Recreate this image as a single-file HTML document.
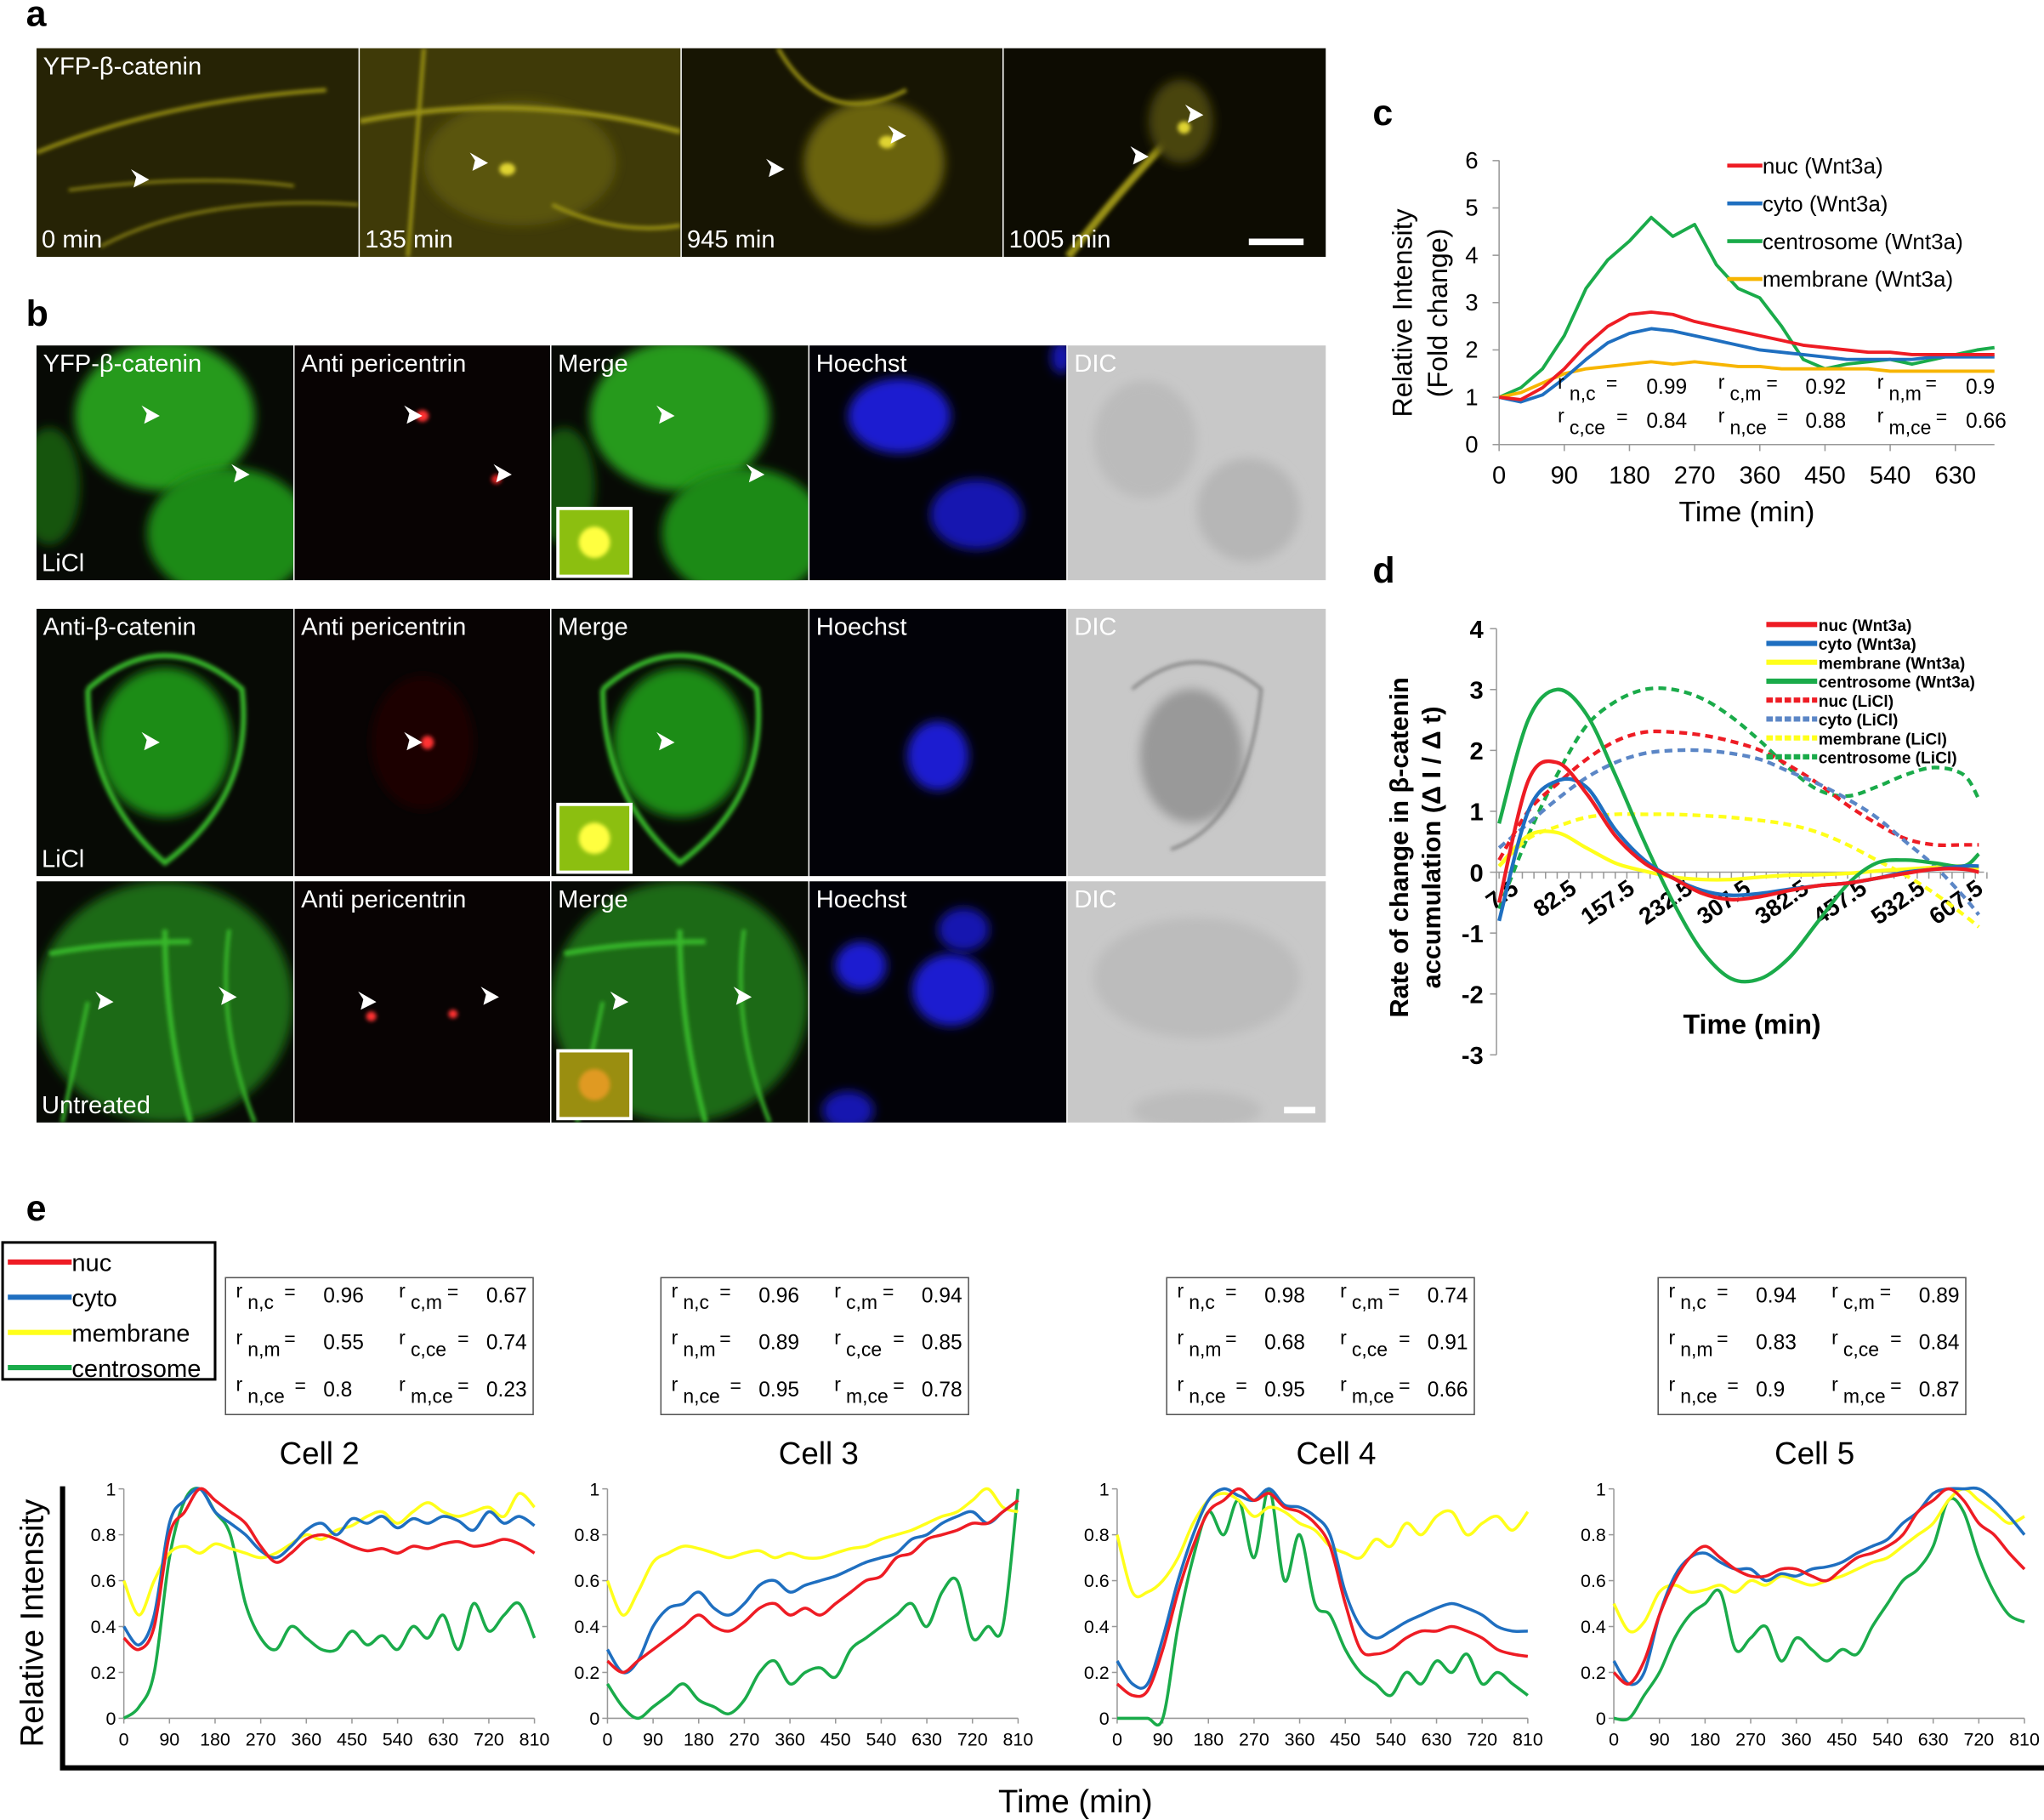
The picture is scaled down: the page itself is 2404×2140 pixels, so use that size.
<!DOCTYPE html>
<html><head><meta charset="utf-8"><style>
html,body{margin:0;padding:0;background:#fff}
svg{display:block;font-family:"Liberation Sans",Arial,sans-serif}
</style></head><body>
<svg id="fig" width="2404" height="2140" viewBox="0 0 1568 1396" preserveAspectRatio="none" xmlns="http://www.w3.org/2000/svg">
<defs id="defs">
<filter id="bl" x="-50%" y="-50%" width="200%" height="200%"><feGaussianBlur stdDeviation="4"/></filter>
<filter id="bs" x="-50%" y="-50%" width="200%" height="200%"><feGaussianBlur stdDeviation="1.5"/></filter>
</defs>
<g id="micro"></g>
<g id="pc"></g>
<g id="pd"></g>
<g id="pe"></g>
</svg>
<script>
// ---------- Panel c data ----------
const cTimes=[0,30,60,90,120,150,180,210,240,270,300,330,360,390,420,450,480,510,540,570,600,630,660,684];
const cNuc=[1,0.95,1.2,1.6,2.1,2.5,2.75,2.8,2.75,2.6,2.5,2.4,2.3,2.2,2.1,2.05,2,1.95,1.95,1.9,1.9,1.9,1.9,1.9];
const cCyto=[1,0.9,1.05,1.4,1.8,2.15,2.35,2.45,2.4,2.3,2.2,2.1,2,1.95,1.9,1.85,1.8,1.8,1.8,1.8,1.85,1.85,1.85,1.85];
const cCentro=[1,1.2,1.6,2.3,3.3,3.9,4.3,4.8,4.4,4.65,3.8,3.3,3.1,2.5,1.8,1.6,1.7,1.75,1.8,1.7,1.8,1.9,2,2.05];
const cMemb=[1,1.1,1.3,1.5,1.6,1.65,1.7,1.75,1.7,1.75,1.7,1.65,1.65,1.6,1.6,1.6,1.6,1.6,1.55,1.55,1.55,1.55,1.55,1.55];
const cXTicks=[0,90,180,270,360,450,540,630];
const cYTicks=[0,1,2,3,4,5,6];
// ---------- Panel d data ----------
const dTimes=[7.5,45,82.5,120,157.5,195,232.5,270,307.5,345,382.5,420,457.5,495,532.5,570,607.5,627];
const dNucW=[-0.5,1.5,1.8,1.3,0.6,0.15,-0.1,-0.35,-0.45,-0.4,-0.3,-0.22,-0.18,-0.1,-0.02,0.05,0.05,0];
const dCytoW=[-0.8,1.0,1.5,1.4,0.7,0.2,-0.1,-0.3,-0.38,-0.35,-0.28,-0.22,-0.18,-0.1,0,0.05,0.1,0.1];
const dMembW=[0.1,0.6,0.65,0.4,0.15,0.02,-0.08,-0.12,-0.12,-0.08,-0.05,-0.04,-0.02,0.02,0.05,0.08,0.1,0.05];
const dCentroW=[0.8,2.5,3.0,2.6,1.6,0.5,-0.5,-1.3,-1.75,-1.75,-1.4,-0.8,-0.2,0.15,0.2,0.15,0.1,0.3];
const dNucL=[0.2,1.0,1.45,1.85,2.15,2.3,2.3,2.25,2.15,2.0,1.75,1.45,1.1,0.8,0.55,0.45,0.45,0.45];
const dCytoL=[0.4,0.8,1.2,1.55,1.8,1.95,2.0,2.0,1.95,1.85,1.65,1.45,1.2,0.9,0.5,0.1,-0.4,-0.7];
const dMembL=[0.1,0.55,0.75,0.9,0.95,0.95,0.95,0.93,0.9,0.85,0.78,0.65,0.45,0.2,-0.05,-0.35,-0.7,-0.9];
const dCentroL=[-0.6,0.6,1.6,2.4,2.8,3.0,3.0,2.85,2.55,2.15,1.7,1.35,1.25,1.4,1.6,1.72,1.6,1.2];
const dXLabels=["7.5","82.5","157.5","232.5","307.5","382.5","457.5","532.5","607.5"];
const dYTicks=[-3,-2,-1,0,1,2,3,4];
// ---------- Panel e data ----------
const eTimes=[0,30,60,90,120,150,180,210,240,270,300,330,360,390,420,450,480,510,540,570,600,630,660,690,720,750,780,810];
const eXTicks=[0,90,180,270,360,450,540,630,720,810];
const eYTicks=[0,0.2,0.4,0.6,0.8,1];
const cell2Nuc=[0.35,0.3,0.4,0.8,0.9,1,0.95,0.9,0.85,0.75,0.68,0.72,0.78,0.8,0.78,0.75,0.73,0.74,0.72,0.75,0.74,0.76,0.77,0.75,0.76,0.78,0.76,0.72];
const cell2Cyto=[0.4,0.32,0.45,0.85,0.95,1,0.9,0.85,0.8,0.73,0.7,0.75,0.82,0.85,0.8,0.87,0.85,0.88,0.83,0.87,0.85,0.88,0.86,0.82,0.9,0.85,0.88,0.84];
const cell2Memb=[0.6,0.45,0.6,0.72,0.75,0.72,0.76,0.74,0.72,0.7,0.72,0.76,0.8,0.78,0.82,0.84,0.88,0.9,0.85,0.9,0.94,0.9,0.88,0.9,0.92,0.88,0.98,0.92];
const cell2Centro=[0,0.05,0.2,0.7,0.95,1,0.9,0.8,0.5,0.35,0.3,0.4,0.35,0.3,0.3,0.38,0.32,0.36,0.3,0.4,0.35,0.45,0.3,0.5,0.38,0.45,0.5,0.35];
const cell3Nuc=[0.25,0.2,0.25,0.3,0.35,0.4,0.45,0.4,0.38,0.42,0.48,0.5,0.45,0.48,0.45,0.5,0.55,0.6,0.62,0.7,0.72,0.78,0.8,0.82,0.85,0.85,0.9,0.95];
const cell3Cyto=[0.3,0.2,0.25,0.4,0.48,0.5,0.55,0.48,0.45,0.5,0.58,0.6,0.55,0.58,0.6,0.62,0.65,0.68,0.7,0.72,0.78,0.8,0.85,0.88,0.9,0.85,0.9,0.95];
const cell3Memb=[0.6,0.45,0.55,0.68,0.72,0.75,0.74,0.72,0.7,0.72,0.73,0.7,0.72,0.7,0.7,0.72,0.74,0.75,0.78,0.8,0.82,0.85,0.88,0.9,0.95,1,0.92,0.9];
const cell3Centro=[0.15,0.05,0,0.05,0.1,0.15,0.08,0.05,0.02,0.08,0.2,0.25,0.15,0.2,0.22,0.18,0.3,0.35,0.4,0.45,0.5,0.4,0.55,0.6,0.35,0.4,0.4,1];
const cell4Nuc=[0.15,0.1,0.12,0.3,0.55,0.75,0.9,0.95,1,0.95,0.98,0.92,0.9,0.85,0.75,0.5,0.3,0.28,0.3,0.35,0.38,0.38,0.4,0.38,0.35,0.3,0.28,0.27];
const cell4Cyto=[0.25,0.15,0.15,0.35,0.6,0.8,0.95,1,0.97,0.95,1,0.93,0.92,0.88,0.8,0.55,0.4,0.35,0.38,0.42,0.45,0.48,0.5,0.48,0.45,0.4,0.38,0.38];
const cell4Memb=[0.8,0.55,0.55,0.6,0.7,0.85,0.95,0.98,0.95,0.88,0.92,0.9,0.85,0.82,0.75,0.72,0.7,0.78,0.75,0.85,0.8,0.88,0.9,0.8,0.85,0.88,0.82,0.9];
const cell4Centro=[0,0,0,0,0.4,0.7,0.9,0.8,0.95,0.7,1,0.6,0.8,0.5,0.45,0.3,0.2,0.15,0.1,0.2,0.15,0.25,0.2,0.28,0.15,0.2,0.15,0.1];
const cell5Nuc=[0.2,0.15,0.25,0.45,0.6,0.7,0.75,0.7,0.65,0.62,0.62,0.65,0.65,0.62,0.6,0.65,0.7,0.72,0.75,0.8,0.9,0.95,1,0.95,0.85,0.8,0.72,0.65];
const cell5Cyto=[0.25,0.15,0.2,0.45,0.62,0.7,0.72,0.68,0.65,0.65,0.6,0.63,0.62,0.65,0.66,0.68,0.72,0.75,0.78,0.85,0.9,0.98,1,1,1,0.95,0.88,0.8];
const cell5Memb=[0.5,0.38,0.42,0.55,0.58,0.55,0.56,0.58,0.55,0.6,0.58,0.62,0.6,0.58,0.6,0.62,0.65,0.68,0.7,0.75,0.8,0.85,0.95,1,0.95,0.9,0.85,0.88];
const cell5Centro=[0,0,0.1,0.2,0.35,0.45,0.5,0.55,0.3,0.35,0.4,0.25,0.35,0.3,0.25,0.3,0.28,0.4,0.5,0.6,0.65,0.75,0.95,0.9,0.7,0.55,0.45,0.42];
const cellNames=["Cell 2","Cell 3","Cell 4","Cell 5"];
const cell2R=["0.96","0.67","0.55","0.74","0.8","0.23"];
const cell3R=["0.96","0.94","0.89","0.85","0.95","0.78"];
const cell4R=["0.98","0.74","0.68","0.91","0.95","0.66"];
const cell5R=["0.94","0.89","0.83","0.84","0.9","0.87"];

const NS="http://www.w3.org/2000/svg";
function mk(parent,tag,attrs,txt){const e=document.createElementNS(NS,tag);for(const k in attrs)e.setAttribute(k,attrs[k]);if(txt!==undefined)e.textContent=txt;parent.appendChild(e);return e;}
const RED="#ee1c24",BLUE="#1f6fc0",YEL="#ffff1a",GRN="#1aab4a",LBLUE="#5b86c6";

// ---------- Microscopy ----------
const micro=document.getElementById('micro');
const defs=document.getElementById('defs');
let el, clipN=0;
el=mk(micro,'text',{x:20,y:20,'font-size':28,'font-weight':'bold'},'a');


el=mk(micro,'text',{x:20,y:250,'font-size':28,'font-weight':'bold'},'b');


function tile(x,y,w,h,bg,blobs,label,corner){
  const g=mk(micro,'g',{});
  
  
  const id='clp'+(clipN++);
  const cp=mk(defs,'clipPath',{id:id});
  mk(cp,'rect',{x:x,y:y,width:w,height:h});
  mk(g,'rect',{x:x,y:y,width:w,height:h,fill:bg});
  const cg=mk(g,'g',{'clip-path':`url(#${id})`});
  blobs.forEach(b=>{
    if(b[0]==='e')mk(cg,'ellipse',{cx:x+b[1]*w,cy:y+b[2]*h,rx:b[3]*w,ry:b[4]*h,fill:b[5],filter:b[6]||'url(#bl)',opacity:b[7]||1});
    else if(b[0]==='l')mk(cg,'path',{d:'M'+b[1].replace(/([\d.]+),([\d.]+)/g,(m,a,c)=>(x+a*w).toFixed(1)+','+(y+c*h).toFixed(1)),stroke:b[2],'stroke-width':b[3],fill:'none',filter:'url(#bs)'});
    else if(b[0]==='a'){const ax=x+b[1]*w,ay=y+b[2]*h,s=b[3]||1;mk(cg,'path',{d:`M${ax},${ay} l${-14*s},${-8*s} l${4*s},${6*s} l${-2*s},${8*s} z`,fill:'#fff'});}
  });
  if(label){el=mk(g,'text',{x:x+5,y:y+20,'font-size':19,fill:'#fff'},label);}
  if(corner){el=mk(g,'text',{x:x+4,y:y+h-7,'font-size':19,fill:'#fff'},corner);}
  return g;
}
// panel a
const yl='#9a9214';
tile(28,37,247,160,'#262305',[['l','0,0.5 Q0.4,0.25 0.9,0.2 1,0.35',yl,3],['l','0.2,0.95 Q0.5,0.7 1,0.75',yl,2],['l','0.1,0.68 Q0.5,0.6 0.8,0.66',yl,2],['a',0.35,0.63]],'YFP-β-catenin','0 min');
tile(276,37,246,160,'#3f3a08',[['e',0.5,0.55,0.3,0.3,'#5a5410'],['l','0,0.35 Q0.5,0.2 1,0.4',yl,4],['l','0.2,0 L0.15,1',yl,3],['l','0.6,0.75 Q0.8,0.9 1,0.85',yl,3],['e',0.46,0.58,0.025,0.03,'#e0d430','url(#bs)'],['a',0.4,0.55]],'','135 min');
tile(523,37,246,160,'#171503',[['e',0.6,0.55,0.22,0.3,'#6b6410'],['l','0.3,0 Q0.45,0.4 0.7,0.2 1,0.1',yl,3],['e',0.64,0.45,0.025,0.03,'#e0d430','url(#bs)'],['a',0.32,0.58],['a',0.7,0.42]],'','945 min');
tile(770,37,247,160,'#0d0c02',[['l','0.2,1 Q0.4,0.6 0.6,0.3 0.8,0',yl,6],['e',0.55,0.35,0.1,0.2,'#4a4510'],['e',0.56,0.38,0.02,0.03,'#e0d430','url(#bs)'],['a',0.62,0.32],['a',0.45,0.52]],'','1005 min');
el=mk(micro,'rect',{x:958,y:183,width:42,height:5,fill:'#fff'});


// panel b rows
const cols=[[28,197],[226,196],[423,197],[621,197],[819,198]];
const rows=[[265,180,'YFP-β-catenin','LiCl'],[467,205,'Anti-β-catenin','LiCl'],[676,185,null,'Untreated']];
const G='#38b82c',GD='#259a1c';
rows.forEach((r,ri)=>{
  const [y,h,lab,cond]=r;
  const greenBlobs= ri===0?[['e',0.5,0.3,0.35,0.32,GD],['e',0.75,0.8,0.32,0.28,'#1f8a18'],['e',0.05,0.6,0.12,0.25,'#145510']]:
    ri===1?[['e',0.5,0.5,0.26,0.28,'#1f8c18'],['l','0.2,0.3 Q0.5,0.05 0.8,0.3 0.85,0.7 0.5,0.95 0.2,0.7 0.2,0.3',G,4]]:
    [['e',0.5,0.5,0.5,0.5,'#1a6a12'],['l','0.05,0.3 Q0.3,0.25 0.6,0.25 1,0.3',G,4],['l','0.5,0.2 Q0.5,0.6 0.6,1',G,4],['l','0.2,0.5 L0.1,1',G,3],['l','0.75,0.2 Q0.7,0.6 0.85,1',G,3]];
  const arrows= ri===0?[['a',0.48,0.3],['a',0.83,0.55]]: ri===1?[['a',0.48,0.5]]:[['a',0.3,0.5],['a',0.78,0.48]];
  tile(cols[0][0],y,cols[0][1],h,'#070a05',greenBlobs.concat(arrows),lab,cond);
  const reds= ri===0?[['e',0.5,0.3,0.025,0.025,'#ff3030','url(#bs)'],['e',0.79,0.57,0.02,0.02,'#dd2020','url(#bs)']]:
    ri===1?[['e',0.5,0.5,0.2,0.25,'#1e0404'],['e',0.52,0.5,0.025,0.025,'#ff3030','url(#bs)']]:
    [['e',0.3,0.56,0.02,0.02,'#ff3030','url(#bs)'],['e',0.62,0.55,0.018,0.018,'#ff3030','url(#bs)']];
  tile(cols[1][0],y,cols[1][1],h,'#080303',reds.concat(arrows.map(a=>['a',a[1]+0.02,a[2]])),'Anti pericentrin');
  const mg=tile(cols[2][0],y,cols[2][1],h,'#070a05',greenBlobs.concat(arrows),'Merge');
  const iy=y+h-55;
  mk(mg,'rect',{x:428,y:iy,width:56,height:52,fill:ri===2?'#9a8e10':'#8cbf10',stroke:'#fff','stroke-width':2.5});
  mk(mg,'ellipse',{cx:456,cy:iy+26,rx:12,ry:12,fill:ri===2?'#e09a20':'#ffff40',filter:'url(#bs)'});
  const blues= ri===0?[['e',0.35,0.3,0.2,0.16,'#1a1ad0'],['e',0.65,0.72,0.18,0.15,'#1515b0'],['e',0.98,0.05,0.04,0.07,'#1515b0']]:
    ri===1?[['e',0.5,0.55,0.12,0.13,'#1a1ad0']]:[['e',0.2,0.35,0.1,0.1,'#1a1ad0'],['e',0.55,0.45,0.15,0.15,'#1a1ad0'],['e',0.6,0.2,0.1,0.09,'#1515b0'],['e',0.15,0.95,0.1,0.08,'#1515b0']];
  tile(cols[3][0],y,cols[3][1],h,'#020208',blues,'Hoechst');
  const dic= ri===0?[['e',0.3,0.4,0.2,0.25,'#bbbbbb'],['e',0.7,0.7,0.2,0.22,'#b6b6b6']]:
    ri===1?[['e',0.48,0.55,0.2,0.25,'#999'],['l','0.25,0.3 Q0.5,0.1 0.75,0.3 0.7,0.8 0.4,0.9 0.25,0.3','#777',2]]:
    [['e',0.5,0.4,0.4,0.25,'#bcbcbc'],['e',0.5,0.95,0.25,0.08,'#bcbcbc']];
  tile(cols[4][0],y,cols[4][1],h,'#c8c8c8',dic,'DIC');
});
el=mk(micro,'rect',{x:985,y:849,width:24,height:5,fill:'#fff'});



// ---------- Panel c ----------
const pc=document.getElementById('pc');
const cx=t=>1150+t*50/90, cy=v=>341-v*36.3;
el=mk(pc,'text',{x:1053,y:96,'font-size':28,'font-weight':'bold'},'c');


mk(pc,'line',{x1:1150,y1:123,x2:1150,y2:341,stroke:'#999','stroke-width':1});
mk(pc,'line',{x1:1150,y1:341,x2:1530,y2:341,stroke:'#999','stroke-width':1});
cYTicks.forEach(v=>{
  mk(pc,'line',{x1:1145,y1:cy(v),x2:1150,y2:cy(v),stroke:'#999'});
  el=mk(pc,'text',{x:1134,y:cy(v)+6,'font-size':18,'text-anchor':'end'},String(v));
  
  
});
cXTicks.forEach(t=>{
  mk(pc,'line',{x1:cx(t),y1:341,x2:cx(t),y2:346,stroke:'#999'});
  el=mk(pc,'text',{x:cx(t),y:371,'font-size':19,'text-anchor':'middle'},String(t));
  
  
});
el=mk(pc,'text',{x:1340,y:400,'font-size':22,'text-anchor':'middle'},'Time (min)');


el=mk(pc,'text',{transform:'translate(1083,240) rotate(-90)','font-size':21,'text-anchor':'middle'},'Relative Intensity');


el=mk(pc,'text',{transform:'translate(1110,240) rotate(-90)','font-size':21,'text-anchor':'middle'},'(Fold change)');


function poly(g,xs,ys,xf,yf,color,w,dash){
  const pts=xs.map((t,i)=>xf(t).toFixed(1)+','+yf(ys[i]).toFixed(1)).join(' ');
  const p=mk(g,'polyline',{points:pts,fill:'none',stroke:color,'stroke-width':w,'stroke-linejoin':'round'});
  if(dash)p.setAttribute('stroke-dasharray',dash);
  return p;
}
[[cCentro,GRN,'c-line-centrosome'],[cMemb,'#f7b500','c-line-membrane'],[cCyto,BLUE,'c-line-cyto'],[cNuc,RED,'c-line-nuc']].forEach(s=>{
  el=poly(pc,cTimes,s[0],cx,cy,s[1],2.5);
  
  
});
[['nuc (Wnt3a)',RED],['cyto (Wnt3a)',BLUE],['centrosome (Wnt3a)',GRN],['membrane (Wnt3a)','#f7b500']].forEach((l,i)=>{
  const y=127+i*29;
  mk(pc,'line',{x1:1325,y1:y,x2:1352,y2:y,stroke:l[1],'stroke-width':3});
  el=mk(pc,'text',{x:1352,y:y+6,'font-size':17},l[0]);
  
  
});
function rlabel(g,x,y,sub,val,valx,fs){
  fs=fs||16;
  mk(g,'text',{x:x,y:y-4,'font-size':fs-1},'r');
  mk(g,'text',{x:x+9,y:y+5,'font-size':fs-1},sub);
  mk(g,'text',{x:x+9+sub.length*8+4,y:y-3,'font-size':fs-1},'=');
  el=mk(g,'text',{x:valx,y:y,'font-size':fs},val);
  
  
}
rlabel(pc,1195,302,'n,c','0.99',1263);
rlabel(pc,1318,302,'c,m','0.92',1385);
rlabel(pc,1440,302,'n,m','0.9',1508);
rlabel(pc,1195,328,'c,ce','0.84',1263);
rlabel(pc,1318,328,'n,ce','0.88',1385);
rlabel(pc,1440,328,'m,ce','0.66',1508);

// ---------- Panel d ----------
const pd=document.getElementById('pd');
const dx=t=>1150+(t-7.5)*0.594, dy=v=>669-v*46.7;
el=mk(pd,'text',{x:1053,y:447,'font-size':28,'font-weight':'bold'},'d');


mk(pd,'line',{x1:1148,y1:dy(4),x2:1148,y2:dy(-3),stroke:'#999'});
mk(pd,'line',{x1:1148,y1:669,x2:1522,y2:669,stroke:'#999'});
for(let t=7.5;t<=640;t+=15)mk(pd,'line',{x1:dx(t),y1:669,x2:dx(t),y2:674,stroke:'#999'});
dYTicks.forEach(v=>{
  mk(pd,'line',{x1:1143,y1:dy(v),x2:1148,y2:dy(v),stroke:'#999'});
  el=mk(pd,'text',{x:1138,y:dy(v)+7,'font-size':19,'font-weight':'bold','text-anchor':'end'},String(v));
  
  
});
dXLabels.forEach(l=>{
  const x=dx(parseFloat(l));
  el=mk(pd,'text',{transform:`translate(${x+16},${684}) rotate(-35)`,'font-size':18,'font-weight':'bold','text-anchor':'end'},l);
  
  
});
el=mk(pd,'text',{x:1344,y:793,'font-size':21,'font-weight':'bold','text-anchor':'middle'},'Time (min)');


el=mk(pd,'text',{transform:'translate(1080,650) rotate(-90)','font-size':20,'font-weight':'bold','text-anchor':'middle'},'Rate of change in β-catenin');


el=mk(pd,'text',{transform:'translate(1105,650) rotate(-90)','font-size':20,'font-weight':'bold','text-anchor':'middle'},'accumulation (Δ I / Δ t)');


function smooth(g,xs,ys,xf,yf,color,w,dash){
  const P=xs.map((t,i)=>[xf(t),yf(ys[i])]);
  let d=`M${P[0][0]},${P[0][1]}`;
  for(let i=0;i<P.length-1;i++){
    const p0=P[Math.max(0,i-1)],p1=P[i],p2=P[i+1],p3=P[Math.min(P.length-1,i+2)];
    d+=` C${(p1[0]+(p2[0]-p0[0])/6).toFixed(1)},${(p1[1]+(p2[1]-p0[1])/6).toFixed(1)} ${(p2[0]-(p3[0]-p1[0])/6).toFixed(1)},${(p2[1]-(p3[1]-p1[1])/6).toFixed(1)} ${p2[0].toFixed(1)},${p2[1].toFixed(1)}`;
  }
  const p=mk(g,'path',{d:d,fill:'none',stroke:color,'stroke-width':w});
  if(dash)p.setAttribute('stroke-dasharray',dash);
  return p;
}
const dSeries=[[dCentroL,GRN,'6,4','d-line-centrosome-licl'],[dNucL,RED,'6,4','d-line-nuc-licl'],[dCytoL,LBLUE,'6,4','d-line-cyto-licl'],[dMembL,YEL,'6,4','d-line-membrane-licl'],
  [dMembW,YEL,null,'d-line-membrane-wnt3a'],[dCentroW,GRN,null,'d-line-centrosome-wnt3a'],[dCytoW,BLUE,null,'d-line-cyto-wnt3a'],[dNucW,RED,null,'d-line-nuc-wnt3a']];
dSeries.forEach(s=>{
  el=smooth(pd,dTimes,s[0],dx,dy,s[1],2.8,s[2]);
  
  
});
[['nuc (Wnt3a)',RED,0],['cyto (Wnt3a)',BLUE,0],['membrane (Wnt3a)',YEL,0],['centrosome (Wnt3a)',GRN,0],['nuc (LiCl)',RED,1],['cyto (LiCl)',LBLUE,1],['membrane (LiCl)',YEL,1],['centrosome (LiCl)',GRN,1]].forEach((l,i)=>{
  const y=479+i*14.5;
  const ln=mk(pd,'line',{x1:1355,y1:y,x2:1394,y2:y,stroke:l[1],'stroke-width':4});
  if(l[2])ln.setAttribute('stroke-dasharray','5,2');
  el=mk(pd,'text',{x:1395,y:y+5,'font-size':12.5,'font-weight':'bold'},l[0]);
  
  
});

// ---------- Panel e ----------
const pe=document.getElementById('pe');
el=mk(pe,'text',{x:20,y:936,'font-size':28,'font-weight':'bold'},'e');


el=mk(pe,'rect',{x:2,y:953,width:163,height:105,fill:'#fff',stroke:'#000','stroke-width':2});


[['nuc',RED],['cyto',BLUE],['membrane',YEL],['centrosome',GRN]].forEach((l,i)=>{
  const y=968+i*27;
  mk(pe,'line',{x1:6,y1:y,x2:55,y2:y,stroke:l[1],'stroke-width':4});
  el=mk(pe,'text',{x:55,y:y+7,'font-size':19},l[0]);
  
  
});
const cellData=[[cell2Nuc,cell2Cyto,cell2Memb,cell2Centro,cell2R],[cell3Nuc,cell3Cyto,cell3Memb,cell3Centro,cell3R],[cell4Nuc,cell4Cyto,cell4Memb,cell4Centro,cell4R],[cell5Nuc,cell5Cyto,cell5Memb,cell5Centro,cell5R]];
const x0s=[95,466,857,1238], boxX=[173,507,895,1272], titleX=[245,628,1025,1392];
cellData.forEach((cd,ci)=>{
  const X0=x0s[ci],W=315;
  const ex=t=>X0+t*W/810, ey=v=>1318-v*176;
  const g=mk(pe,'g',{});
  
  
  const bx=boxX[ci];
  el=mk(g,'rect',{x:bx,y:980,width:236,height:105,fill:'#fff',stroke:'#555','stroke-width':1});
  
  
  const subs=['n,c','c,m','n,m','c,ce','n,ce','m,ce'];
  subs.forEach((s,k)=>{
    const col=k%2,row=Math.floor(k/2);
    rlabel(g,bx+8+col*125,999+row*36,s,cd[4][k],bx+75+col*125);
  });
  el=mk(g,'text',{x:titleX[ci],y:1123,'font-size':24,'text-anchor':'middle'},cellNames[ci]);
  
  
  mk(g,'line',{x1:X0,y1:1142,x2:X0,y2:1318,stroke:'#999'});
  mk(g,'line',{x1:X0,y1:1318,x2:X0+W,y2:1318,stroke:'#999'});
  eYTicks.forEach(v=>{
    mk(g,'line',{x1:X0-4,y1:ey(v),x2:X0,y2:ey(v),stroke:'#999'});
    el=mk(g,'text',{x:X0-6,y:ey(v)+5,'font-size':14,'text-anchor':'end'},v===0||v===1?String(v):v.toFixed(1));
    
    
  });
  eXTicks.forEach(t=>{
    mk(g,'line',{x1:ex(t),y1:1318,x2:ex(t),y2:1322,stroke:'#999'});
    el=mk(g,'text',{x:ex(t),y:1339,'font-size':14,'text-anchor':'middle'},String(t));
    
    
  });
  [[cd[3],GRN,'cell-line-centrosome'],[cd[2],YEL,'cell-line-membrane'],[cd[1],BLUE,'cell-line-cyto'],[cd[0],RED,'cell-line-nuc']].forEach(s=>{
    el=smooth(g,eTimes,s[0],ex,ey,s[1],2.3);
    
    
  });
});
el=mk(pe,'path',{d:'M48,1140 L48,1356 L1568,1356',fill:'none',stroke:'#000','stroke-width':4});


el=mk(pe,'text',{transform:'translate(33,1245) rotate(-90)','font-size':25,'text-anchor':'middle'},'Relative Intensity');


el=mk(pe,'text',{x:825,y:1390,'font-size':25,'text-anchor':'middle'},'Time (min)');


</script>
</body></html>
